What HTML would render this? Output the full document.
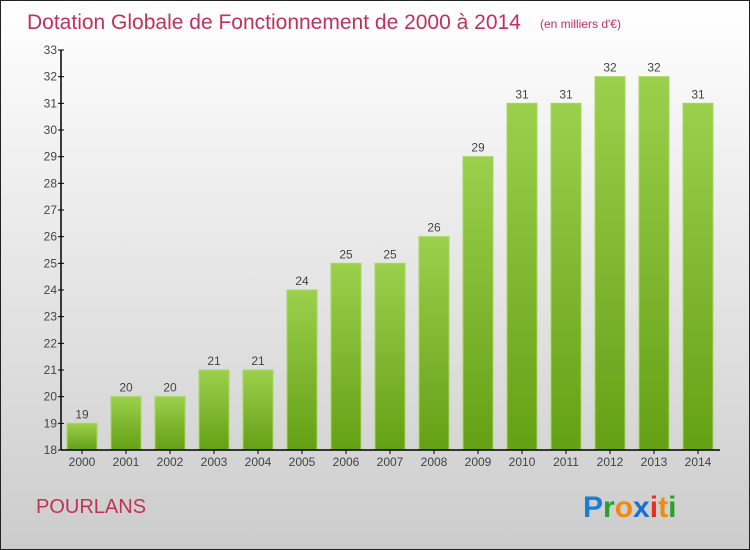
<!DOCTYPE html>
<html><head><meta charset="utf-8"><style>
html,body{margin:0;padding:0;}
body{width:750px;height:550px;overflow:hidden;}
svg{display:block;font-family:"Liberation Sans",sans-serif;}
</style></head><body>
<svg id="c" width="750" height="550" xmlns="http://www.w3.org/2000/svg">
<defs>
<linearGradient id="bg" x1="0" y1="0" x2="0" y2="1"><stop offset="0" stop-color="#ffffff"/><stop offset="1" stop-color="#cccccc"/></linearGradient>
<linearGradient id="bar" x1="0" y1="0" x2="0" y2="1"><stop offset="0" stop-color="#9bd04c"/><stop offset="1" stop-color="#64a014"/></linearGradient>
</defs>
<rect x="0.5" y="0.5" width="749" height="549" fill="url(#bg)" stroke="#222"/>
<text x="27" y="29" font-size="21" fill="#c2305e">Dotation Globale de Fonctionnement de 2000 à 2014</text>
<text x="540" y="28" font-size="12" fill="#c2305e">(en milliers d'€)</text>
<g id="bars"></g>
<g id="axes"></g>
<text x="36" y="513" font-size="20" fill="#c2305e">POURLANS</text>
<g font-size="30" font-weight="bold">
<text x="583" y="517"><tspan fill="#1a7fd4">P</tspan><tspan fill="#2aa02a">r</tspan><tspan fill="#f08a10">o</tspan><tspan fill="#1a6fd0">x</tspan><tspan fill="#e83020">i</tspan><tspan fill="#f08a10">t</tspan><tspan fill="#2aa02a">i</tspan></text>
</g>
</svg>
<script>
const years=["2000","2001","2002","2003","2004","2005","2006","2007","2008","2009","2010","2011","2012","2013","2014"];
const values=[19,20,20,21,21,24,25,25,26,29,31,31,32,32,31];
const yTicks=[18,19,20,21,22,23,24,25,26,27,28,29,30,31,32,33];
const NS="http://www.w3.org/2000/svg";
const yMin=18,yMax=33,yTop=50,yBot=450,x0=61,x1=720;
const yS=v=>yBot-(v-yMin)/(yMax-yMin)*(yBot-yTop);
const xc=i=>82+i*44;
function mk(t,a,p){const e=document.createElementNS(NS,t);for(const k in a)e.setAttribute(k,a[k]);p.appendChild(e);return e;}
const B=document.getElementById('bars'),A=document.getElementById('axes');
values.forEach((v,i)=>{
 const r=mk('rect',{x:xc(i)-15,y:yS(v),width:30,height:yBot-yS(v),fill:'url(#bar)',stroke:'#a6d85e','stroke-width':1},B);
 
 
 const t=mk('text',{x:xc(i),y:yS(v)-5,'text-anchor':'middle','font-size':12,fill:'#444'},B);
 t.textContent=v;
 
 
 const tk=mk('line',{x1:xc(i),x2:xc(i),y1:yBot,y2:yBot+4,stroke:'#000'},A);
 
 
 const xl=mk('text',{x:xc(i),y:yBot+16,'text-anchor':'middle','font-size':12,fill:'#444'},A);
 xl.textContent=years[i];
 
 
});
yTicks.forEach(v=>{
 const l=mk('line',{x1:x0-3,x2:x0+3,y1:yS(v),y2:yS(v),stroke:'#000'},A);
 
 
 const t=mk('text',{x:x0-4,y:yS(v)+4,'text-anchor':'end','font-size':12,fill:'#444'},A);
 t.textContent=v;
 
 
});
const ya=mk('line',{x1:x0,x2:x0,y1:yTop,y2:yBot,stroke:'#000','stroke-width':1.5},A);


const xa=mk('line',{x1:x0,x2:x1,y1:yBot,y2:yBot,stroke:'#000','stroke-width':1.5},A);


</script>
</body></html>
